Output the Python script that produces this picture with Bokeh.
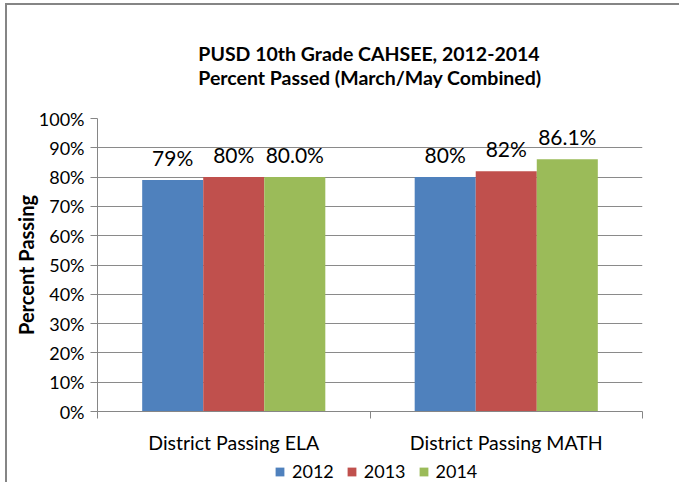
from bokeh.plotting import figure
from bokeh.layouts import column
from bokeh.models import Range1d, FixedTicker, NumeralTickFormatter, Legend, LegendItem, Title, ColumnDataSource
from bokeh.core.properties import value
from bokeh.embed import file_html
from bokeh.resources import INLINE

categories = ["District Passing ELA", "District Passing MATH"]
years = ["2012", "2013", "2014"]
v2012 = [0.79, 0.80]
v2013 = [0.80, 0.82]
v2014 = [0.80, 0.861]
labels2012 = ["79%", "80%"]
labels2013 = ["80%", "82%"]
labels2014 = ["80.0%", "86.1%"]
colors = ["#4F81BD", "#C0504D", "#9BBB59"]
y_ticks = [0.0, 0.1, 0.2, 0.3, 0.4, 0.5, 0.6, 0.7, 0.8, 0.9, 1.0]
title_lines = ["PUSD 10th Grade CAHSEE, 2012-2014", "Percent Passed (March/May Combined)"]

FONT = "Lato"
W = 672

p = figure(width=W, height=451, output_backend="svg", toolbar_location=None,
           x_range=Range1d(0, 2), y_range=Range1d(0, 1),
           min_border_left=90, min_border_right=37, min_border_top=113, min_border_bottom=44)
p.outline_line_color = None
p.background_fill_color = "white"
p.border_fill_color = "white"

bar_w = 0.224
series = [v2012, v2013, v2014]
series_labels = [labels2012, labels2013, labels2014]
sources = []
for si, (vals, labs) in enumerate(zip(series, series_labels)):
    xs = [ci + 0.5 + (si - 1) * bar_w for ci in range(len(categories))]
    src = ColumnDataSource(dict(x=xs, top=vals, lab=labs))
    sources.append(src)
    p.vbar(x="x", top="top", width=bar_w, bottom=0, source=src,
           fill_color=colors[si], line_color=None)
    p.text(x="x", y="top", text="lab", source=src, text_align="center", text_baseline="bottom",
           y_offset=-10, text_font=value(FONT), text_font_size="21px", text_color="#000000")

# axes
yax = p.yaxis[0]
yax.ticker = FixedTicker(ticks=y_ticks)
yax.formatter = NumeralTickFormatter(format="0%")
yax.major_tick_out = 7
yax.major_tick_in = 0
yax.minor_tick_line_color = None
yax.axis_line_color = "#868686"
yax.major_tick_line_color = "#868686"
yax.major_label_text_font = FONT
yax.major_label_text_font_size = "18px"
yax.major_label_text_color = "#000000"
yax.major_label_standoff = 6
yax.axis_label = "Percent Passing"
yax.axis_label_text_font = FONT
yax.axis_label_text_font_style = "bold"
yax.axis_label_text_font_size = "20px"
yax.axis_label_text_color = "#000000"
yax.axis_label_standoff = -2

xax = p.xaxis[0]
xax.ticker = FixedTicker(ticks=[0.5, 1.5], minor_ticks=[0, 1, 2])
xax.major_label_overrides = {0.5: categories[0], 1.5: categories[1]}
xax.major_tick_line_color = None
xax.major_tick_out = 0
xax.minor_tick_out = 7
xax.minor_tick_in = 0
xax.minor_tick_line_color = "#868686"
xax.axis_line_color = "#868686"
xax.major_label_text_font = FONT
xax.major_label_text_font_size = "19.5px"
xax.major_label_text_color = "#000000"
xax.major_label_standoff = 12

p.xgrid.grid_line_color = None
p.ygrid.grid_line_color = "#8a8a8a"
p.ygrid.ticker = FixedTicker(ticks=y_ticks)

title = Title(text="\n".join(title_lines), align="center", standoff=59,
              text_font=FONT, text_font_style="bold", text_font_size="19.5px",
              text_color="#000000", text_line_height=1.03)
p.add_layout(title, "above")

# legend strip below the chart (same bar data, kept out of its visible range so only the legend shows)
lf = figure(width=W, height=26, output_backend="svg", toolbar_location=None,
            x_range=Range1d(0, 2), y_range=Range1d(5, 6),
            x_axis_type=None, y_axis_type=None, min_border=0)
lf.outline_line_color = None
lf.grid.visible = False
lf.background_fill_color = "white"
lf.border_fill_color = "white"
lrs = [lf.vbar(x="x", top="top", width=bar_w, bottom=0, source=sources[i],
               fill_color=colors[i], line_color=None) for i in range(3)]
legend = Legend(items=[LegendItem(label=years[i], renderers=[lrs[i]]) for i in range(3)],
                orientation="horizontal", location=(177, 0))
legend.padding = 0
legend.margin = 0
legend.spacing = 12
legend.glyph_width = 11
legend.glyph_height = 11
legend.label_standoff = 7
legend.label_text_font = FONT
legend.label_text_font_size = "18px"
legend.label_text_color = "#000000"
legend.border_line_color = None
legend.background_fill_alpha = 0
lf.add_layout(legend)

layout = column(p, lf, spacing=0)
layout.styles = {"border-left": "2px solid #858585", "border-top": "2px solid #858585",
                 "margin-left": "5px", "margin-top": "3px", "background-color": "white"}

open("out.html", "w").write(file_html(layout, INLINE))
